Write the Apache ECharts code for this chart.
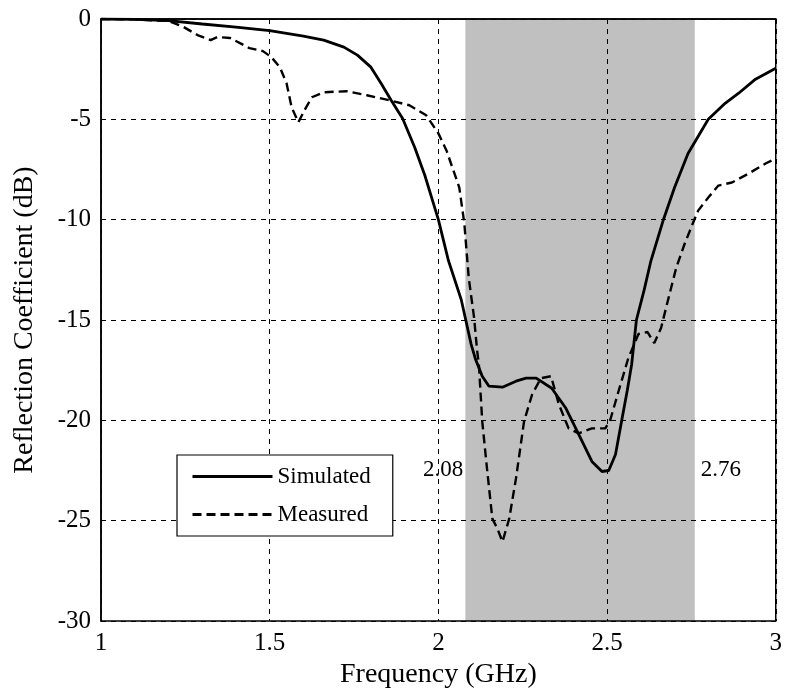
<!DOCTYPE html>
<html>
<head>
<meta charset="utf-8">
<script src="https://cdn.jsdelivr.net/npm/echarts@6/dist/echarts.min.js"></script>
<style>html,body{margin:0;padding:0;background:#fff}#c{width:785px;height:697px}</style>
</head>
<body>
<div id="c"></div>
<script>
const simFreq = [1.00,1.10,1.20,1.30,1.40,1.50,1.60,1.66,1.72,1.76,1.80,1.83,1.86,1.894,1.93,1.96,2.00,2.03,2.068,2.097,2.11,2.13,2.15,2.19,2.23,2.26,2.29,2.336,2.378,2.416,2.455,2.485,2.505,2.525,2.543,2.56,2.573,2.587,2.61,2.63,2.667,2.70,2.74,2.80,2.85,2.89,2.94,3.00];
const simDb   = [0,-0.02,-0.08,-0.25,-0.4,-0.58,-0.85,-1.05,-1.4,-1.8,-2.4,-3.2,-4.05,-4.96,-6.4,-7.8,-10,-12.05,-14,-16.2,-16.95,-17.8,-18.3,-18.35,-18.05,-17.9,-17.9,-18.4,-19.4,-20.7,-22.05,-22.55,-22.5,-21.7,-20.05,-18.5,-17.2,-15.0,-13.5,-12.05,-10,-8.4,-6.7,-5.0,-4.2,-3.7,-3.0,-2.45];
const measFreq = [1.00,1.10,1.20,1.245,1.286,1.325,1.345,1.383,1.44,1.48,1.505,1.53,1.55,1.565,1.585,1.603,1.625,1.66,1.728,1.788,1.855,1.914,1.964,2.0,2.024,2.062,2.077,2.09,2.106,2.115,2.12,2.13,2.145,2.16,2.175,2.19,2.21,2.23,2.254,2.278,2.304,2.334,2.357,2.386,2.416,2.455,2.495,2.51,2.534,2.563,2.593,2.62,2.64,2.66,2.68,2.705,2.73,2.755,2.77,2.8,2.83,2.87,2.92,2.97,3.0];
const measDb   = [0,-0.02,-0.1,-0.4,-0.8,-1.05,-0.9,-0.95,-1.45,-1.6,-1.9,-2.4,-3.2,-4.4,-5.15,-4.55,-3.9,-3.65,-3.6,-3.8,-4.05,-4.3,-4.8,-5.7,-6.55,-8.4,-10.2,-12.9,-14.9,-16.55,-17.2,-20.05,-22.55,-24.9,-25.4,-26.05,-24.9,-22.9,-20.05,-18.7,-17.9,-17.8,-19.2,-20.4,-20.65,-20.4,-20.4,-19.95,-18.55,-16.9,-15.7,-15.6,-16.15,-15.4,-14.05,-12.4,-11.2,-10.15,-9.55,-8.9,-8.3,-8.15,-7.7,-7.2,-6.95];
const bandEdges = [2.08, 2.76];
const bandLabels = ['2.08', '2.76'];
const bandLabelDb = -22.45;
const seriesNames = ['Simulated', 'Measured'];
const xTicks = {min: 1, max: 3, interval: 0.5};
const yTicks = {min: -30, max: 0, interval: 5};

const FONT = '"Liberation Serif", "DejaVu Serif", serif';
const zip = (a, b) => a.map((v, i) => [v, b[i]]);

const chart = echarts.init(document.getElementById('c'));
chart.setOption({
  animation: false,
  backgroundColor: '#fff',
  textStyle: {fontFamily: FONT, color: '#000'},
  grid: {left: 101, right: 7, top: 19, bottom: 76, show: true, borderColor: '#000', borderWidth: 1.5, backgroundColor: 'transparent', z: 5},
  xAxis: {
    type: 'value', min: xTicks.min, max: xTicks.max, interval: xTicks.interval,
    name: 'Frequency (GHz)', nameLocation: 'middle', nameGap: 38,
    nameTextStyle: {fontFamily: FONT, fontSize: 28, color: '#000'},
    axisLine: {show: true, lineStyle: {color: '#000', width: 1.5}},
    axisTick: {show: false},
    axisLabel: {fontFamily: FONT, fontSize: 25, color: '#000', margin: 10},
    splitLine: {show: true, lineStyle: {color: '#000', width: 1, type: [5, 5]}}
  },
  yAxis: {
    type: 'value', min: yTicks.min, max: yTicks.max, interval: yTicks.interval,
    name: 'Reflection Coefficient (dB)', nameLocation: 'middle', nameGap: 62,
    nameTextStyle: {fontFamily: FONT, fontSize: 28, color: '#000'},
    axisLine: {show: true, lineStyle: {color: '#000', width: 1.5}},
    axisTick: {show: false},
    axisLabel: {fontFamily: FONT, fontSize: 25, color: '#000', margin: 10},
    splitLine: {show: true, lineStyle: {color: '#000', width: 1, type: [5, 5]}}
  },
  legend: {
    data: seriesNames,
    orient: 'vertical', left: 177, top: 455,
    backgroundColor: '#fff', borderColor: '#000', borderWidth: 1.2,
    padding: [10, 22, 10, 14], itemGap: 15, itemWidth: 80, itemHeight: 14,
    itemStyle: {opacity: 0},
    lineStyle: {width: 3},
    textStyle: {fontFamily: FONT, fontSize: 23, color: '#000'},
    z: 10
  },
  series: [
    {
      name: 'band', type: 'line', data: [], silent: true,
      markArea: {silent: true, z: -1, itemStyle: {color: '#c0c0c0'},
        data: [[{xAxis: bandEdges[0]}, {xAxis: bandEdges[1]}]]}
    },
    {
      name: seriesNames[0], type: 'line', data: zip(simFreq, simDb), showSymbol: false, symbol: 'none',
      color: '#000', lineStyle: {color: '#000', width: 2.8}, z: 3
    },
    {
      name: seriesNames[1], type: 'line', data: zip(measFreq, measDb), showSymbol: false, symbol: 'none',
      color: '#000', lineStyle: {color: '#000', width: 2.4, type: [9, 5]}, z: 3
    },
    {
      name: 'labels', type: 'scatter', symbolSize: 0.01, silent: true,
      itemStyle: {opacity: 1},
      data: [
        {value: [bandEdges[0], bandLabelDb], label: {position: 'left', formatter: bandLabels[0], distance: 2}},
        {value: [bandEdges[1], bandLabelDb], label: {position: 'right', formatter: bandLabels[1], distance: 6}}
      ],
      label: {show: true, fontFamily: FONT, fontSize: 23, color: '#000', opacity: 1},
      z: 4
    }
  ]
});
</script>
</body>
</html>
